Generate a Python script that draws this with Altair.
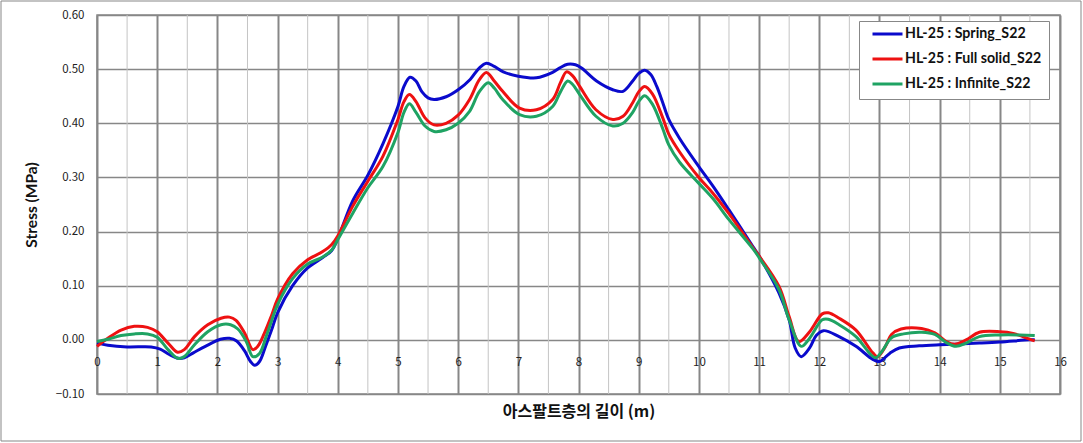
import altair as alt
import pandas as pd

series_names = ["HL-25 : Spring_S22", "HL-25 : Full solid_S22", "HL-25 : Infinite_S22"]
series_colors = ["#0a0acc", "#ee1111", "#1fa363"]

spring_x = [0, 0.18, 0.5, 0.9, 1.05, 1.2, 1.35, 1.45, 1.6, 1.8, 2.05, 2.2, 2.32, 2.45, 2.55, 2.62, 2.7, 2.8, 2.9, 3.0,
            3.25, 3.5, 3.75, 3.9, 4.0, 4.25, 4.5, 4.75, 5.0, 5.1, 5.2, 5.3, 5.4, 5.5, 5.6, 5.8, 6.0, 6.2, 6.35, 6.47,
            6.6, 6.75, 7.0, 7.3, 7.57, 7.7, 7.82, 7.95, 8.05, 8.3, 8.57, 8.74, 8.9, 9.0, 9.1, 9.2, 9.3, 9.4, 9.5, 9.68,
            10.0, 10.24, 10.5, 10.9, 11.0, 11.33, 11.5, 11.6, 11.7, 11.84, 11.95, 12.07, 12.33, 12.61, 12.89, 13.0,
            13.17, 13.33, 13.66, 14.0, 14.25, 14.66, 15.0, 15.5, 15.58]
spring_y = [-0.006, -0.010, -0.013, -0.013, -0.017, -0.027, -0.034, -0.033, -0.024, -0.012, 0.001, 0.003, -0.002,
            -0.02, -0.04, -0.047, -0.04, -0.012, 0.018, 0.05, 0.1, 0.133, 0.152, 0.165, 0.187, 0.257, 0.304, 0.362,
            0.431, 0.468, 0.485, 0.478, 0.458, 0.447, 0.444, 0.449, 0.462, 0.481, 0.502, 0.511, 0.505, 0.495, 0.487,
            0.484, 0.494, 0.503, 0.509, 0.508, 0.502, 0.478, 0.462, 0.459, 0.478, 0.492, 0.498, 0.49, 0.468, 0.438,
            0.407, 0.372, 0.32, 0.283, 0.24, 0.172, 0.155, 0.087, 0.037, -0.015, -0.031, -0.015, 0.008, 0.017, 0.006,
            -0.012, -0.036, -0.04, -0.025, -0.015, -0.011, -0.009, -0.008, -0.006, -0.004, 0.0, 0.0]

solid_x = [0, 0.18, 0.4, 0.62, 0.84, 1.0, 1.18, 1.34, 1.45, 1.62, 1.84, 2.06, 2.2, 2.31, 2.45, 2.59, 2.67, 2.78, 2.9,
           3.0, 3.25, 3.5, 3.75, 3.9, 4.0, 4.25, 4.5, 4.75, 5.0, 5.1, 5.19, 5.3, 5.45, 5.6, 5.8, 6.0, 6.19, 6.35,
           6.47, 6.6, 6.74, 7.02, 7.3, 7.57, 7.7, 7.8, 7.9, 8.02, 8.29, 8.57, 8.74, 8.9, 9.0, 9.1, 9.23, 9.4, 9.5,
           9.68, 10.0, 10.24, 10.5, 10.9, 11.0, 11.33, 11.5, 11.66, 11.84, 12.05, 12.15, 12.33, 12.61, 12.89, 12.97,
           13.1, 13.2, 13.36, 13.7, 13.92, 14.11, 14.25, 14.44, 14.66, 15.0, 15.22, 15.5, 15.58]
solid_y = [-0.012, 0.003, 0.018, 0.025, 0.023, 0.015, -0.006, -0.023, -0.018, 0.006, 0.028, 0.04, 0.042, 0.036,
           0.013, -0.018, -0.012, 0.012, 0.045, 0.075, 0.122, 0.148, 0.163, 0.176, 0.192, 0.247, 0.293, 0.339,
           0.407, 0.44, 0.453, 0.44, 0.41, 0.397, 0.4, 0.415, 0.444, 0.48, 0.494, 0.478, 0.459, 0.428, 0.425, 0.444,
           0.475, 0.495, 0.488, 0.468, 0.425, 0.407, 0.413, 0.438, 0.458, 0.468, 0.454, 0.41, 0.38, 0.347, 0.3,
           0.27, 0.233, 0.17, 0.155, 0.099, 0.043, -0.003, 0.015, 0.048, 0.05, 0.04, 0.018, -0.024, -0.031, -0.012,
           0.01, 0.02, 0.021, 0.013, -0.003, -0.008, 0.0, 0.014, 0.015, 0.012, 0.001, -0.002]

infinite_x = [0, 0.18, 0.4, 0.62, 0.84, 1.0, 1.18, 1.34, 1.45, 1.62, 1.84, 2.06, 2.22, 2.34, 2.48, 2.59, 2.7, 2.81,
              2.9, 3.0, 3.25, 3.5, 3.75, 3.9, 4.0, 4.25, 4.5, 4.75, 5.0, 5.1, 5.19, 5.3, 5.45, 5.6, 5.8, 6.0, 6.19,
              6.35, 6.5, 6.6, 6.74, 7.02, 7.3, 7.57, 7.7, 7.82, 7.9, 8.02, 8.29, 8.57, 8.74, 8.9, 9.0, 9.1, 9.23, 9.4,
              9.5, 9.68, 10.0, 10.24, 10.5, 10.9, 11.0, 11.33, 11.5, 11.7, 11.84, 12.05, 12.15, 12.33, 12.61, 12.93,
              13.05, 13.2, 13.4, 13.7, 13.92, 14.11, 14.27, 14.44, 14.66, 15.0, 15.33, 15.58]
infinite_y = [-0.003, 0.001, 0.008, 0.011, 0.011, 0.005, -0.018, -0.034, -0.031, -0.009, 0.015, 0.028, 0.028, 0.02,
              -0.003, -0.031, -0.025, 0.006, 0.035, 0.065, 0.113, 0.14, 0.153, 0.166, 0.185, 0.234, 0.281, 0.32,
              0.383, 0.42, 0.436, 0.42, 0.395, 0.385, 0.388, 0.4, 0.422, 0.458, 0.475, 0.465, 0.444, 0.416, 0.413,
              0.431, 0.458, 0.478, 0.472, 0.453, 0.413, 0.395, 0.4, 0.42, 0.44, 0.451, 0.435, 0.39, 0.36, 0.328,
              0.289, 0.26, 0.222, 0.168, 0.152, 0.093, 0.037, -0.012, 0.003, 0.037, 0.038, 0.028, 0.006, -0.033,
              -0.02, 0.004, 0.011, 0.014, 0.01, -0.005, -0.012, -0.006, 0.006, 0.009, 0.009, 0.008]

x_ticks = list(range(0, 17))
minor_x = [i + 0.5 for i in range(16)]
y_ticks = [-0.1, 0.0, 0.1, 0.2, 0.3, 0.4, 0.5, 0.6]

rows = []
for name, xs, ys in zip(series_names, [spring_x, solid_x, infinite_x], [spring_y, solid_y, infinite_y]):
    for xv, yv in zip(xs, ys):
        rows.append({"series": name, "x": xv, "y": yv})
df = pd.DataFrame(rows)

GRID = "#878787"
xscale = alt.Scale(domain=[0, 16], nice=False, zero=False)
yscale = alt.Scale(domain=[-0.1, 0.6], nice=False, zero=False)

border = alt.Chart(alt.Data(values=[{}])).mark_rect(
    fill=None, stroke=GRID, strokeWidth=1
).encode(x=alt.value(-96), x2=alt.value(984), y=alt.value(-14), y2=alt.value(426))

minor = alt.Chart(pd.DataFrame({"m": minor_x})).mark_rule(color="#c4c4c4", strokeWidth=1).encode(
    x=alt.X("m:Q", scale=xscale)
)

base = alt.Chart(df).mark_line(strokeWidth=3, interpolate="catmull-rom").encode(
    x=alt.X("x:Q", scale=xscale,
            axis=alt.Axis(values=x_ticks, format="d", title="아스팔트층의 길이 (m)", grid=True, gridColor=GRID,
                          gridWidth=2, domain=False, ticks=False, labelPadding=-38, labelFlush=False,
                          labelAlign="center", labelOverlap=False,
                          labelFont="Noto Sans CJK KR", labelFontSize=11.5, labelColor="#222222",
                          titleFont="Noto Sans CJK KR", titleFontSize=16, titleFontWeight="bold",
                          titleColor="#111111", titlePadding=9)),
    y=alt.Y("y:Q", scale=yscale,
            axis=alt.Axis(values=y_ticks, format=".2f", title="Stress (MPa)", grid=True, gridColor=GRID,
                          gridWidth=1.3, domain=False, ticks=False, labelPadding=13,
                          labelFont="Noto Sans CJK KR", labelFontSize=11.5, labelColor="#222222",
                          titleFont="Lato", titleFontSize=15.5, titleFontWeight="bold", titleColor="#111111",
                          titlePadding=16)),
    color=alt.Color("series:N", scale=alt.Scale(domain=series_names, range=series_colors),
                    legend=alt.Legend(title=None, orient="none", legendX=762, legendY=6,
                                      fillColor="white", strokeColor=GRID, padding=7,
                                      symbolType="stroke", symbolSize=900, symbolStrokeWidth=3,
                                      symbolOffset=5, clipHeight=12, rowPadding=10, labelOffset=1,
                                      labelFont="Lato", labelFontSize=14.2, labelFontWeight="bold",
                                      labelColor="#111111", labelLimit=300)),
)

layers = [border, minor]
for name in series_names:
    layers.append(base.transform_filter(alt.datum.series == name))

chart = alt.layer(*layers).properties(
    width=963, height=379,
    padding={"left": 97, "top": 15, "right": 23, "bottom": 49},
    autosize=alt.AutoSizeParams(type="none"),
    background="white",
).configure_view(stroke=GRID, strokeWidth=1.5)

chart.save("out.html", embed_options={"renderer": "svg", "actions": False})
